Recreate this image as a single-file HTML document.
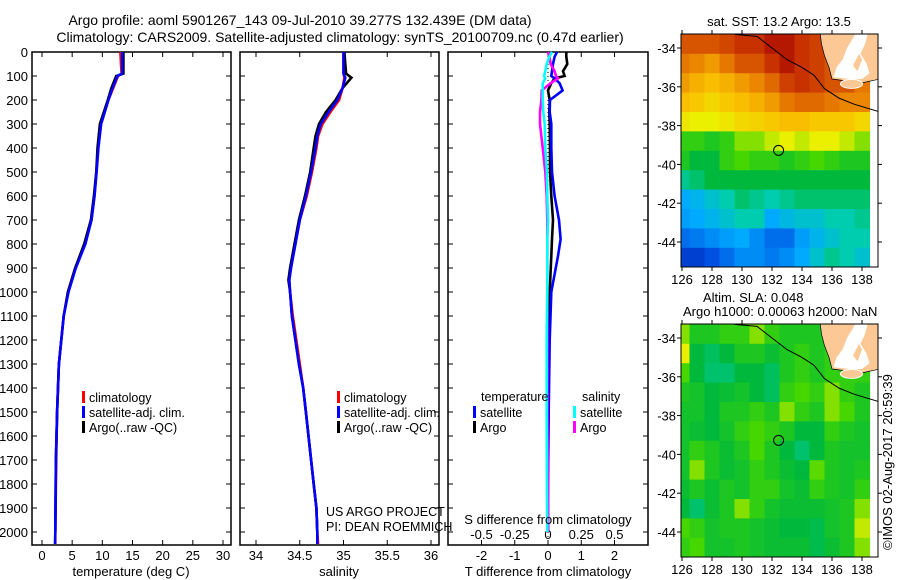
<!DOCTYPE html>
<html><head><meta charset="utf-8"><style>
html,body{margin:0;padding:0;background:#fff;}
svg{display:block;font-family:"Liberation Sans",sans-serif;}
</style></head><body>
<svg id="fig" width="900" height="580" viewBox="0 0 900 580" xmlns="http://www.w3.org/2000/svg">
<rect width="900" height="580" fill="#fff"/>
<text x="300" y="25" font-size="14" text-anchor="middle">Argo profile: aoml 5901267_143 09-Jul-2010 39.277S 132.439E (DM data)</text>
<text x="340" y="42" font-size="14" text-anchor="middle">Climatology: CARS2009. Satellite-adjusted climatology: synTS_20100709.nc (0.47d earlier)</text>
<g id="g1"></g>
<g id="g2"></g>
<g id="g3"></g>
<g id="m1"></g>
<g id="m2"></g>
<text x="779" y="26" font-size="13" text-anchor="middle">sat. SST: 13.2 Argo: 13.5</text>
<text x="703" y="302" font-size="13">Altim. SLA: 0.048</text>
<text x="683" y="316" font-size="13">Argo h1000: 0.00063 h2000: NaN</text>
<text x="0" y="0" font-size="13" transform="translate(892,550) rotate(-90)">©IMOS 02-Aug-2017 20:59:39</text>
</svg>
<script>
// ---------- profile data ----------
const depthT = [0,50,90,100,150,200,300,400,500,600,700,800,900,1000,1100,1200,1300,1400,1500,1700,2000,2050];
const tempClim = [13.0,13.1,13.2,12.6,11.8,11.0,9.8,9.3,9.0,8.7,8.2,7.1,5.5,4.3,3.6,3.2,2.8,2.65,2.5,2.35,2.2,2.2];
const tempSat  = [13.3,13.3,13.3,12.5,11.7,11.0,9.8,9.35,9.05,8.7,8.2,7.2,5.6,4.4,3.6,3.2,2.8,2.65,2.5,2.3,2.2,2.15];
const tempArgo = [13.5,13.5,13.5,12.3,11.5,10.9,9.6,9.2,9.0,8.6,8.1,7.0,5.5,4.3,3.6,3.2,2.8,2.65,2.5,2.3,2.2];
const depthS = [0,50,90,107,150,200,250,300,350,400,500,600,700,800,900,950,1000,1100,1200,1300,1400,1500,1600,1700,1800,1900,2000,2050];
const salClim = [35.0,35.0,35.0,35.01,34.99,34.95,34.85,34.76,34.71,34.69,34.64,34.58,34.5,34.45,34.4,34.38,34.39,34.42,34.46,34.5,34.54,34.57,34.6,34.63,34.66,34.69,34.7,34.71];
const salSat  = [35.0,35.0,35.0,35.02,34.99,34.93,34.83,34.74,34.7,34.68,34.63,34.57,34.5,34.45,34.4,34.38,34.39,34.41,34.45,34.49,34.54,34.57,34.6,34.63,34.66,34.69,34.7,34.7];
const salArgo = [35.01,35.02,35.03,35.09,34.99,34.91,34.8,34.72,34.68,34.66,34.62,34.56,34.49,34.44,34.39,34.37,34.39,34.41,34.45,34.49,34.54,34.57,34.6,34.63,34.66,34.69,34.7];
const depthD = [0,20,50,80,100,110,130,160,200,250,300,400,500,600,700,780,850,1000,1200,1500,1800,2000];
const dTsat  = [0.27,0.2,0.15,0.12,0.1,0.2,0.35,0.44,0.06,0.05,0.1,0.1,0.12,0.2,0.33,0.38,0.3,0.1,0.05,0.02,0.0,0.0];
const dTargo = [0.55,0.55,0.58,0.45,0.5,0.2,0.1,0.0,0.05,0.04,0.05,0.06,0.06,0.1,0.15,0.12,0.1,0.05,0.03,0.01,0.0,0.0];
const dSsat  = [0.03,0.01,-0.01,-0.02,-0.03,-0.02,-0.04,-0.04,-0.04,-0.035,-0.025,-0.02,-0.008,-0.005,0.0,-0.005,-0.005,-0.005,-0.01,-0.01,-0.008,-0.005];
const dSargo = [0.0,0.01,0.02,0.05,0.06,0.075,0.02,-0.047,-0.05,-0.06,-0.06,-0.04,-0.02,-0.01,-0.005,-0.005,-0.005,-0.005,-0.005,-0.005,0.0,0.0];
const depthTicks = [0,100,200,300,400,500,600,700,800,900,1000,1100,1200,1300,1400,1500,1600,1700,1800,1900,2000];
const tTicks = [0,5,10,15,20,25,30];
const sTicks = [34,34.5,35,35.5,36];
const sTickLabels = ["34","34.5","35","35.5","36"];
const tdTicks = [-2,-1,0,1,2];
const sdTicks = [-0.5,-0.25,0,0.25,0.5];
const sdTickLabels = ["-0.5","-0.25","0","0.25","0.5"];
// ---------- map data (1-degree cells, rows from north to south, cols lon 126..138) ----------
const mapLats = [-33.8,-34.8,-35.8,-36.8,-37.8,-38.8,-39.8,-40.8,-41.8,-42.8,-43.8,-44.8];
const mapLons = [126,127,128,129,130,131,132,133,134,135,136,137,138];
const sstNorm = [
[0.85,0.85,0.85,0.87,0.9,0.9,0.95,0.95,0.9,0.88,0.85,0.85,0.85],
[0.8,0.78,0.75,0.8,0.85,0.85,0.9,0.95,0.9,0.88,0.85,0.85,0.85],
[0.75,0.72,0.7,0.72,0.75,0.78,0.82,0.88,0.9,0.88,0.85,0.85,0.8],
[0.7,0.68,0.65,0.68,0.7,0.72,0.75,0.8,0.82,0.82,0.8,0.78,0.78],
[0.62,0.6,0.6,0.62,0.65,0.66,0.68,0.7,0.7,0.68,0.68,0.68,0.65],
[0.5,0.5,0.48,0.5,0.55,0.55,0.58,0.6,0.58,0.6,0.6,0.58,0.55],
[0.48,0.45,0.45,0.5,0.52,0.5,0.5,0.48,0.5,0.52,0.5,0.48,0.48],
[0.4,0.42,0.45,0.45,0.45,0.45,0.45,0.45,0.45,0.45,0.45,0.45,0.45],
[0.3,0.32,0.35,0.38,0.42,0.4,0.38,0.4,0.42,0.42,0.42,0.42,0.42],
[0.28,0.3,0.32,0.35,0.38,0.38,0.3,0.33,0.35,0.35,0.38,0.38,0.4],
[0.2,0.22,0.25,0.28,0.3,0.25,0.2,0.2,0.28,0.32,0.35,0.38,0.38],
[0.12,0.12,0.15,0.2,0.25,0.25,0.22,0.25,0.3,0.35,0.4,0.38,0.35]];
const slaNorm = [
[0.55,0.48,0.48,0.5,0.5,0.55,0.5,0.48,0.48,0.48,0.5,0.5,0.5],
[0.6,0.45,0.43,0.45,0.48,0.48,0.46,0.48,0.5,0.48,0.5,0.5,0.5],
[0.52,0.45,0.42,0.42,0.45,0.45,0.43,0.48,0.5,0.48,0.5,0.5,0.5],
[0.48,0.47,0.45,0.46,0.47,0.45,0.43,0.5,0.52,0.5,0.55,0.5,0.48],
[0.47,0.47,0.45,0.48,0.48,0.5,0.48,0.55,0.5,0.48,0.55,0.52,0.48],
[0.47,0.46,0.45,0.47,0.5,0.52,0.5,0.48,0.45,0.45,0.5,0.48,0.47],
[0.47,0.5,0.48,0.46,0.48,0.52,0.48,0.45,0.42,0.45,0.48,0.47,0.47],
[0.47,0.55,0.48,0.46,0.47,0.5,0.48,0.46,0.45,0.53,0.48,0.47,0.48],
[0.46,0.48,0.46,0.48,0.47,0.5,0.5,0.47,0.46,0.5,0.48,0.47,0.5],
[0.45,0.42,0.46,0.48,0.55,0.5,0.47,0.46,0.46,0.46,0.47,0.48,0.55],
[0.52,0.5,0.47,0.48,0.48,0.47,0.46,0.45,0.45,0.44,0.47,0.48,0.58],
[0.5,0.52,0.47,0.47,0.48,0.47,0.46,0.46,0.46,0.44,0.46,0.48,0.55]];
const lonTicks = [126,128,130,132,134,136,138];
const latTicks = [-34,-36,-38,-40,-42,-44];
const argoLon = 132.439, argoLat = -39.277;

const NS = "http://www.w3.org/2000/svg";
function mk(parent, tag, attrs, txt){
  const e = document.createElementNS(NS, tag);
  for (const k in attrs) e.setAttribute(k, attrs[k]);
  if (txt !== undefined) e.textContent = txt;
  parent.appendChild(e); return e;
}
const yD = d => 52 + d*0.24;
const PT = 52, PB = 545;

function panel(g, L, R, xs, ticks, labels, name){
  const fr = mk(g,'rect',{x:L,y:PT,width:R-L,height:PB-PT,fill:'none',stroke:'#000','stroke-width':1.5});
  
  
  ticks.forEach((t,i)=>{
    const x = xs(t);
    const a = mk(g,'line',{x1:x,y1:PT,x2:x,y2:PT+5,stroke:'#000'});
    
    
    const b = mk(g,'line',{x1:x,y1:PB,x2:x,y2:PB-5,stroke:'#000'});
    
    
    const lt = mk(g,'text',{x:x,y:PB+15,'font-size':13,'text-anchor':'middle'},labels[i]);
    
    
  });
  depthTicks.forEach(d=>{
    const y = yD(d);
    const a = mk(g,'line',{x1:L,y1:y,x2:L+5,y2:y,stroke:'#000'});
    
    
    const b = mk(g,'line',{x1:R,y1:y,x2:R-5,y2:y,stroke:'#000'});
    
    
  });
}
function line(g, xs, vals, depths, color, name){
  const pts = vals.map((v,i)=>xs(v).toFixed(1)+','+yD(depths[i]).toFixed(1)).join(' ');
  const p = mk(g,'polyline',{points:pts,fill:'none',stroke:color,'stroke-width':2.6,'stroke-linejoin':'miter'});
  
  
}
function legend(g, x, y, color, label, name){
  const r = mk(g,'rect',{x:x,y:y-10,width:3,height:12,fill:color});
  
  
  const t = mk(g,'text',{x:x+7,y:y+1,'font-size':12.5},label);
  
  
}

// Panel 1: temperature
const g1 = document.getElementById('g1');
const xT = t => 42 + t*6.033;
panel(g1, 32, 231, xT, tTicks, tTicks.map(String), 'temp');
depthTicks.forEach(d=>{
  const t = mk(g1,'text',{x:28,y:yD(d)+5,'font-size':13,'text-anchor':'end'},String(d));
  
  
});
line(g1, xT, tempClim, depthT, '#f00', 'temp-climatology-line');
line(g1, xT, tempArgo, depthT, '#000', 'temp-argo-line');
line(g1, xT, tempSat, depthT, '#00f', 'temp-satellite-line');
legend(g1, 82, 401, '#f00', 'climatology', 'temp-legend-climatology');
legend(g1, 82, 416, '#00f', 'satellite-adj. clim.', 'temp-legend-satellite');
legend(g1, 82, 431, '#000', 'Argo(..raw -QC)', 'temp-legend-argo');
mk(g1,'text',{x:131,y:576,'font-size':13,'text-anchor':'middle',},'temperature (deg C)');

// Panel 2: salinity
const g2 = document.getElementById('g2');
const xS = s => 256 + (s-34)*87.5;
panel(g2, 240, 439, xS, sTicks, sTickLabels, 'sal');
line(g2, xS, salClim, depthS, '#f00', 'sal-climatology-line');
line(g2, xS, salArgo, depthS, '#000', 'sal-argo-line');
line(g2, xS, salSat, depthS, '#00f', 'sal-satellite-line');
legend(g2, 337, 401, '#f00', 'climatology', 'sal-legend-climatology');
legend(g2, 337, 416, '#00f', 'satellite-adj. clim.', 'sal-legend-satellite');
legend(g2, 337, 431, '#000', 'Argo(..raw -QC)', 'sal-legend-argo');
mk(g2,'text',{x:326,y:516,'font-size':12.5,},'US ARGO PROJECT');
mk(g2,'text',{x:326,y:531,'font-size':12.5,},'PI: DEAN ROEMMICH');
mk(g2,'text',{x:339,y:576,'font-size':13,'text-anchor':'middle',},'salinity');

// Panel 3: differences
const g3 = document.getElementById('g3');
const xTd = t => 548 + t*33.25;
const xSd = s => 548 + s*133;
panel(g3, 448, 648, xTd, tdTicks, tdTicks.map(String), 'diff');
sdTicks.forEach((s,i)=>{
  const t = mk(g3,'text',{x:xSd(s),y:539,'font-size':13,'text-anchor':'middle'},sdTickLabels[i]);
  
  
});
const zl = mk(g3,'line',{x1:548,y1:PT,x2:548,y2:PB,stroke:'#000','stroke-dasharray':'1,3'});


line(g3, xTd, dTargo, depthD, '#000', 'tdiff-argo-line');
line(g3, xTd, dTsat, depthD, '#00f', 'tdiff-satellite-line');
line(g3, xSd, dSargo, depthD, '#f0f', 'sdiff-argo-line');
line(g3, xSd, dSsat, depthD, '#0ff', 'sdiff-satellite-line');
mk(g3,'text',{x:481,y:401,'font-size':12.5,},'temperature');
mk(g3,'text',{x:582,y:401,'font-size':12.5,},'salinity');
legend(g3, 473, 416, '#00f', 'satellite', 'tdiff-legend-satellite');
legend(g3, 473, 431, '#000', 'Argo', 'tdiff-legend-argo');
legend(g3, 573, 416, '#0ff', 'satellite', 'sdiff-legend-satellite');
legend(g3, 573, 431, '#f0f', 'Argo', 'sdiff-legend-argo');
mk(g3,'text',{x:548,y:524,'font-size':13,'text-anchor':'middle',},'S difference from climatology');
mk(g3,'text',{x:548,y:576,'font-size':13,'text-anchor':'middle',},'T difference from climatology');

// ---------- maps ----------
const stops = [[0,[0,0,140]],[0.15,[0,80,225]],[0.3,[0,170,255]],[0.38,[0,205,175]],[0.45,[0,185,60]],[0.52,[70,215,0]],[0.6,[235,240,0]],[0.7,[250,190,0]],[0.8,[230,120,0]],[0.9,[200,50,0]],[1,[160,0,0]]];
function cmap(v){
  v = Math.max(0, Math.min(1, v));
  for (let i=1;i<stops.length;i++){
    if (v <= stops[i][0]){
      const [a,ca] = stops[i-1], [b,cb] = stops[i];
      const f = (v-a)/(b-a);
      return 'rgb('+ca.map((c,k)=>Math.round(c+(cb[k]-c)*f)).join(',')+')';
    }
  }
  return 'rgb(160,0,0)';
}
function drawMap(g, top, grid, name){
  const lonX = l => 682 + (l-126)*15;
  const latY = la => top + 14 + (-34-la)*19.4;
  const L = 681, R = 878, T = top, B = top + 233;
  const cp = mk(g,'clipPath',{id:'clip'+name});
  mk(cp,'rect',{x:L,y:T,width:R-L,height:B-T});
  const cells = mk(g,'g',{'clip-path':'url(#clip'+name+')'});
  grid.forEach((row,r)=>{
    row.forEach((v,c)=>{
      const x0 = lonX(mapLons[c]-0.5), y0 = latY(mapLats[r]+0.5);
      const cell = mk(cells,'rect',{x:x0.toFixed(1),y:y0.toFixed(1),width:15.6,height:20,fill:cmap(v)});
      
      
    });
  });
  const P = arr => arr.map(p=>lonX(p[0]).toFixed(1)+','+latY(p[1]).toFixed(1)).join(' ');
  const land = mk(cells,'polygon',{points:P([[135.2,-33.2],[135.3,-33.8],[135.5,-34.4],[135.8,-35.0],[136.0,-35.6],[137.0,-35.7],[138.0,-35.8],[139.2,-35.6],[139.2,-33.2]]),fill:'#fcc896',stroke:'#000','stroke-width':0.7});
  
  
  const gulf = mk(cells,'polygon',{points:P([[136.1,-35.5],[136.3,-35.0],[136.7,-34.6],[137.0,-34.0],[137.4,-33.5],[137.6,-33.2],[138.4,-33.2],[138.2,-33.8],[137.9,-34.3],[138.3,-34.8],[138.5,-35.3],[138.0,-35.6],[137.2,-35.6]]),fill:'#fff'});
  
  
  const pen = mk(cells,'polygon',{points:P([[137.4,-34.9],[137.8,-34.3],[138.0,-34.6],[137.7,-35.2]]),fill:'#fcc896'});
  
  
  const isl = mk(cells,'ellipse',{cx:lonX(137.3),cy:latY(-35.85),rx:11,ry:4.5,fill:'#fcc896',stroke:'#fff','stroke-width':1});
  
  
  const coast = mk(cells,'polyline',{points:P([[129.5,-33.3],[131,-33.4],[132,-34.0],[133,-34.6],[134,-35.0],[134.8,-35.4],[135.5,-36.1],[136.5,-36.6],[137.5,-36.9],[139.2,-37.3]]),fill:'none',stroke:'#000','stroke-width':1});
  
  
  const fr = mk(g,'rect',{x:L,y:T,width:R-L,height:B-T,fill:'none',stroke:'#000','stroke-width':1});
  
  
  lonTicks.forEach(l=>{
    const x = lonX(l);
    mk(g,'line',{x1:x,y1:T,x2:x,y2:T-4,stroke:'#000'});
    mk(g,'line',{x1:x,y1:B,x2:x,y2:B+4,stroke:'#000'});
    const t = mk(g,'text',{x:x,y:B+17,'font-size':13,'text-anchor':'middle'},String(l));
    
    
  });
  latTicks.forEach(la=>{
    const y = latY(la);
    mk(g,'line',{x1:L,y1:y,x2:L-4,y2:y,stroke:'#000'});
    mk(g,'line',{x1:R,y1:y,x2:R+4,y2:y,stroke:'#000'});
    const t = mk(g,'text',{x:676,y:y+5,'font-size':13,'text-anchor':'end'},String(la));
    
    
  });
  const m = mk(g,'circle',{cx:lonX(argoLon),cy:latY(argoLat),r:5,fill:'none',stroke:'#000','stroke-width':1});
  
  
}
drawMap(document.getElementById('m1'), 34, sstNorm, 'sst-map');
drawMap(document.getElementById('m2'), 324, slaNorm, 'sla-map');
</script>
</body></html>
